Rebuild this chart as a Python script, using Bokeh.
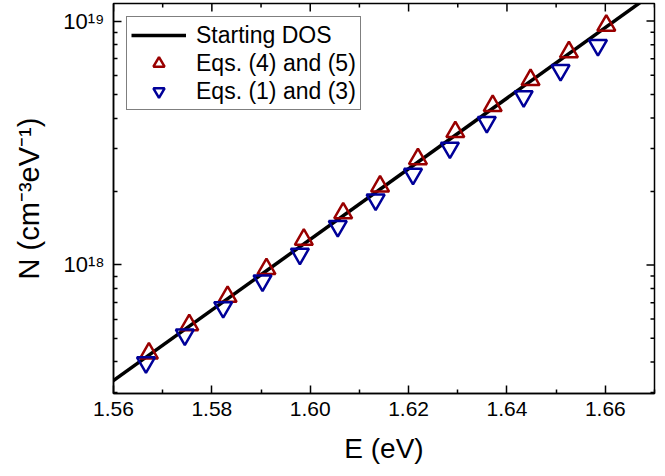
import math
from bokeh.plotting import figure
from bokeh.models import Range1d, FixedTicker, PrintfTickFormatter, CustomJSTickFormatter
from bokeh.embed import file_html
from bokeh.resources import INLINE

# Starting density of states (straight on a log scale: two end points)
energy_line = [1.555, 1.675]
dos_line = [2.84e17, 1.55e19]

# Reconstructed DOS from Eqs. (4) and (5)
energy_45 = [1.5672, 1.5754, 1.5832, 1.5911, 1.5987, 1.6067, 1.6142,
             1.6219, 1.6295, 1.6371, 1.6448, 1.6526, 1.6602]
dos_45 = [4.34e17, 5.67e17, 7.41e17, 9.63e17, 1.27e18, 1.63e18, 2.10e18,
          2.72e18, 3.51e18, 4.49e18, 5.74e18, 7.46e18, 9.59e18]

# Reconstructed DOS from Eqs. (1) and (3)
energy_13 = [1.5666, 1.5745, 1.5823, 1.5903, 1.5979, 1.6056, 1.6133,
             1.6209, 1.6284, 1.6359, 1.6434, 1.6509, 1.6585]
dos_13 = [3.98e17, 5.17e17, 6.70e17, 8.62e17, 1.11e18, 1.44e18, 1.85e18,
          2.36e18, 3.02e18, 3.85e18, 4.91e18, 6.28e18, 7.96e18]

# Tick positions
x_major = [1.56, 1.58, 1.60, 1.62, 1.64, 1.66]
x_minor = [1.57, 1.59, 1.61, 1.63, 1.65, 1.67]
y_decades = [1e17, 1e18, 1e19]
y_major = [1e18, 1e19]
y_minor = [m * d for d in y_decades for m in range(2, 10)]

FONT = "Liberation Sans"
RED = "#990000"
BLUE = "#000099"

x_range = Range1d(1.56, 1.67)
y_range = Range1d(2.97e17, 1.18e19)

p = figure(width=665, height=476, output_backend="svg", toolbar_location=None,
           x_range=x_range, y_range=y_range, y_axis_type="log",
           min_border_left=113, min_border_right=11,
           min_border_top=3, min_border_bottom=83)

p.xgrid.visible = False
p.ygrid.visible = False
p.outline_line_color = "black"
p.outline_line_width = 1.5

# Decade labels written as 10 with a superscript exponent
sup_formatter = CustomJSTickFormatter(code="""
const sup = {"0":"\u2070","1":"\u00b9","2":"\u00b2","3":"\u00b3","4":"\u2074",
             "5":"\u2075","6":"\u2076","7":"\u2077","8":"\u2078","9":"\u2079","-":"\u207b"};
const e = Math.round(Math.log10(tick));
return "10" + String(e).split("").map(c => sup[c]).join("");
""")


def style_axis(ax):
    ax.axis_line_color = "black"
    ax.axis_line_width = 1.5
    ax.major_tick_line_width = 1.5
    ax.minor_tick_line_width = 1.5
    ax.major_tick_in = 8
    ax.major_tick_out = 0
    ax.minor_tick_in = 4
    ax.minor_tick_out = 0
    ax.major_label_text_font = FONT
    ax.major_label_text_color = "black"
    ax.axis_label_text_font = FONT
    ax.axis_label_text_font_style = "normal"
    ax.axis_label_text_color = "black"


xa = p.xaxis[0]
xa.ticker = FixedTicker(ticks=x_major, minor_ticks=x_minor)
xa.formatter = PrintfTickFormatter(format="%.2f")
style_axis(xa)
xa.major_label_text_font_size = "21px"
xa.major_label_standoff = 8
xa.axis_label = "E (eV)"
xa.axis_label_text_font_size = "28px"
xa.axis_label_standoff = 14

ya = p.yaxis[0]
ya.ticker = FixedTicker(ticks=y_major, minor_ticks=y_minor)
ya.formatter = sup_formatter
style_axis(ya)
ya.major_label_text_font_size = "22px"
ya.major_label_standoff = 9
ya.axis_label = "N (cm\u207b\u00b3eV\u207b\u00b9)"
ya.axis_label_text_font_size = "29px"
ya.axis_label_standoff = 15

# Mirror ticks on the top and right edges of the frame, pointing inward
p.ray(x=x_major, y=[y_range.end] * len(x_major), length=8, length_units="screen",
      angle=-math.pi / 2, line_color="black", line_width=1.5)
p.ray(x=x_minor, y=[y_range.end] * len(x_minor), length=4, length_units="screen",
      angle=-math.pi / 2, line_color="black", line_width=1.5)
p.ray(x=[x_range.end] * len(y_major), y=y_major, length=8, length_units="screen",
      angle=math.pi, line_color="black", line_width=1.5)
p.ray(x=[x_range.end] * len(y_minor), y=y_minor, length=4, length_units="screen",
      angle=math.pi, line_color="black", line_width=1.5)

p.line(energy_line, dos_line, line_color="black", line_width=3.5,
       legend_label="Starting DOS")
p.scatter(energy_45, dos_45, marker="triangle", size=18, fill_color=None,
          line_color=RED, line_width=2.5, legend_label="Eqs. (4) and (5)")
p.scatter(energy_13, dos_13, marker="inverted_triangle", size=18, fill_color=None,
          line_color=BLUE, line_width=2.5, legend_label="Eqs. (1) and (3)")

lg = p.legend[0]
lg.location = "top_left"
lg.margin = 13
lg.padding = 4
lg.spacing = -2
lg.label_height = 28
lg.glyph_width = 55
lg.glyph_height = 28
lg.label_standoff = 10
lg.label_text_font = FONT
lg.label_text_font_size = "23px"
lg.label_text_color = "black"
lg.border_line_color = "black"
lg.border_line_width = 1
lg.background_fill_color = "white"
lg.background_fill_alpha = 1.0

open("out.html", "w").write(file_html(p, INLINE))
